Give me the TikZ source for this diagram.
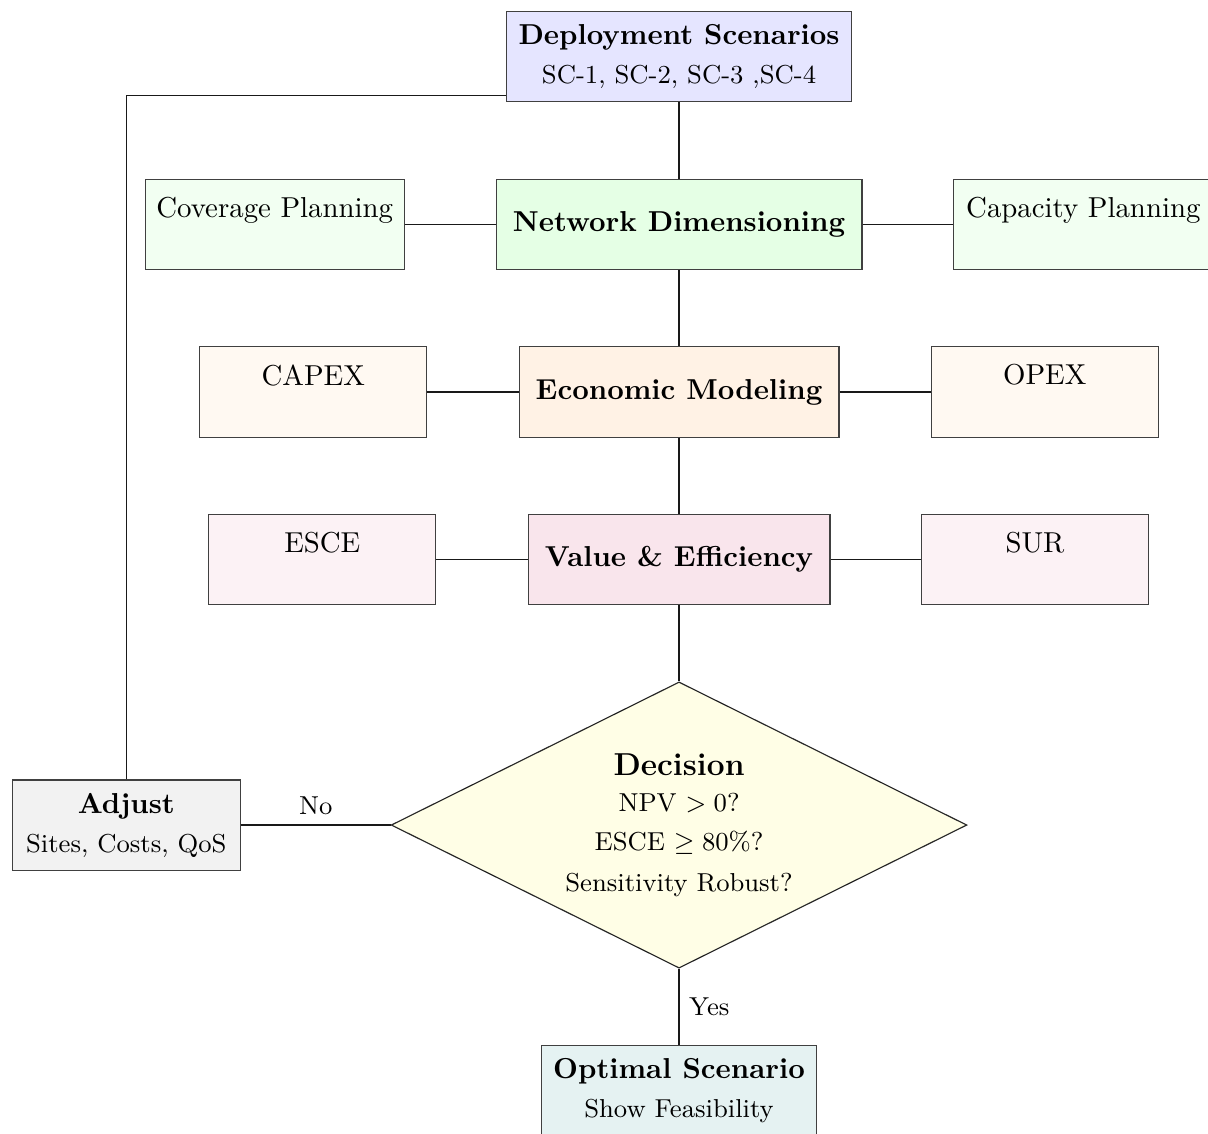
\documentclass[tikz,border=0pt]{standalone}
\usepackage{tikz}
\usetikzlibrary{shapes.geometric}
\usepackage{amsmath}
\usepackage{amssymb}
\usepackage{xcolor}

\begin{document}
\begin{tikzpicture}[
mainbox/.style={draw=black!75,minimum height=1.1cm,align=center},
subbox/.style={draw=black!75,minimum height=1.1cm,minimum width=2.77cm,text depth=12pt},
decide/.style={diamond,draw=black!85,aspect=2,inner sep=0pt,minimum width=7.02cm,minimum height=3.49cm,align=center},
link/.style={draw=black!90}
]
\useasboundingbox (0,0) rectangle (14.73,-13.82);

\node[mainbox,fill=blue!10,minimum width=4.2cm] (deploy) at (8.28,-0.69)
{\textbf{Deployment Scenarios}\\[1.5pt]{\small SC-1, SC-2, SC-3 ,SC-4}};

\node[mainbox,fill=green!10,minimum width=4.46cm] (netdim) at (8.28,-2.74) {\textbf{Network Dimensioning}};
\node[subbox,fill=green!5,minimum width=3.16cm] (coverage) at (3.35,-2.74) {Coverage Planning};
\node[subbox,fill=green!5,minimum width=3.16cm] (capacity) at (13.21,-2.74) {Capacity Planning};

\node[mainbox,fill=orange!10,minimum width=3.9cm] (econ) at (8.28,-4.78) {\textbf{Economic Modeling}};
\node[subbox,fill=orange!5] (capex) at (3.82,-4.78) {CAPEX};
\node[subbox,fill=orange!5] (opex) at (12.74,-4.78) {OPEX};

\node[mainbox,fill=purple!10,minimum width=3.68cm] (value) at (8.28,-6.82) {\textbf{Value \& Efficiency}};
\node[subbox,fill=purple!5] (esce) at (3.93,-6.82) {ESCE};
\node[subbox,fill=purple!5] (sur) at (12.62,-6.82) {SUR};

\node[decide,fill=yellow!10] (decision) at (8.28,-10.06)
{{\fontsize{11}{12}\selectfont\textbf{Decision}}\\[0.7pt]{\small NPV $>0$?}\\[1.5pt]{\small ESCE $\geq 80\%$?}\\[2.2pt]{\small Sensitivity Robust?}};

\node[mainbox,fill=gray!10,minimum width=2.78cm] (adjust) at (1.54,-10.06)
{\textbf{Adjust}\\[1.5pt]{\small Sites, Costs, QoS}};

\node[mainbox,fill=teal!10,minimum width=3.35cm] (optimal) at (8.28,-13.30)
{\textbf{Optimal Scenario}\\[1.5pt]{\small Show Feasibility}};

% main chain
\draw[link] (deploy) -- (netdim);
\draw[link] (netdim) -- (econ);
\draw[link] (econ) -- (value);
\draw[link] (value) -- (decision);

% side inputs
\draw[link] (coverage) -- (netdim);
\draw[link] (netdim) -- (capacity);
\draw[link] (capex) -- (econ);
\draw[link] (econ) -- (opex);
\draw[link] (esce) -- (value);
\draw[link] (value) -- (sur);

% outcomes
\draw[link] (decision) -- node[above]{\small No} (adjust);
\draw[link] (decision) -- node[right]{\small Yes} (optimal);
\draw[link] (adjust.north) |- ([yshift=0.085cm]deploy.south west);
\end{tikzpicture}
\end{document}
